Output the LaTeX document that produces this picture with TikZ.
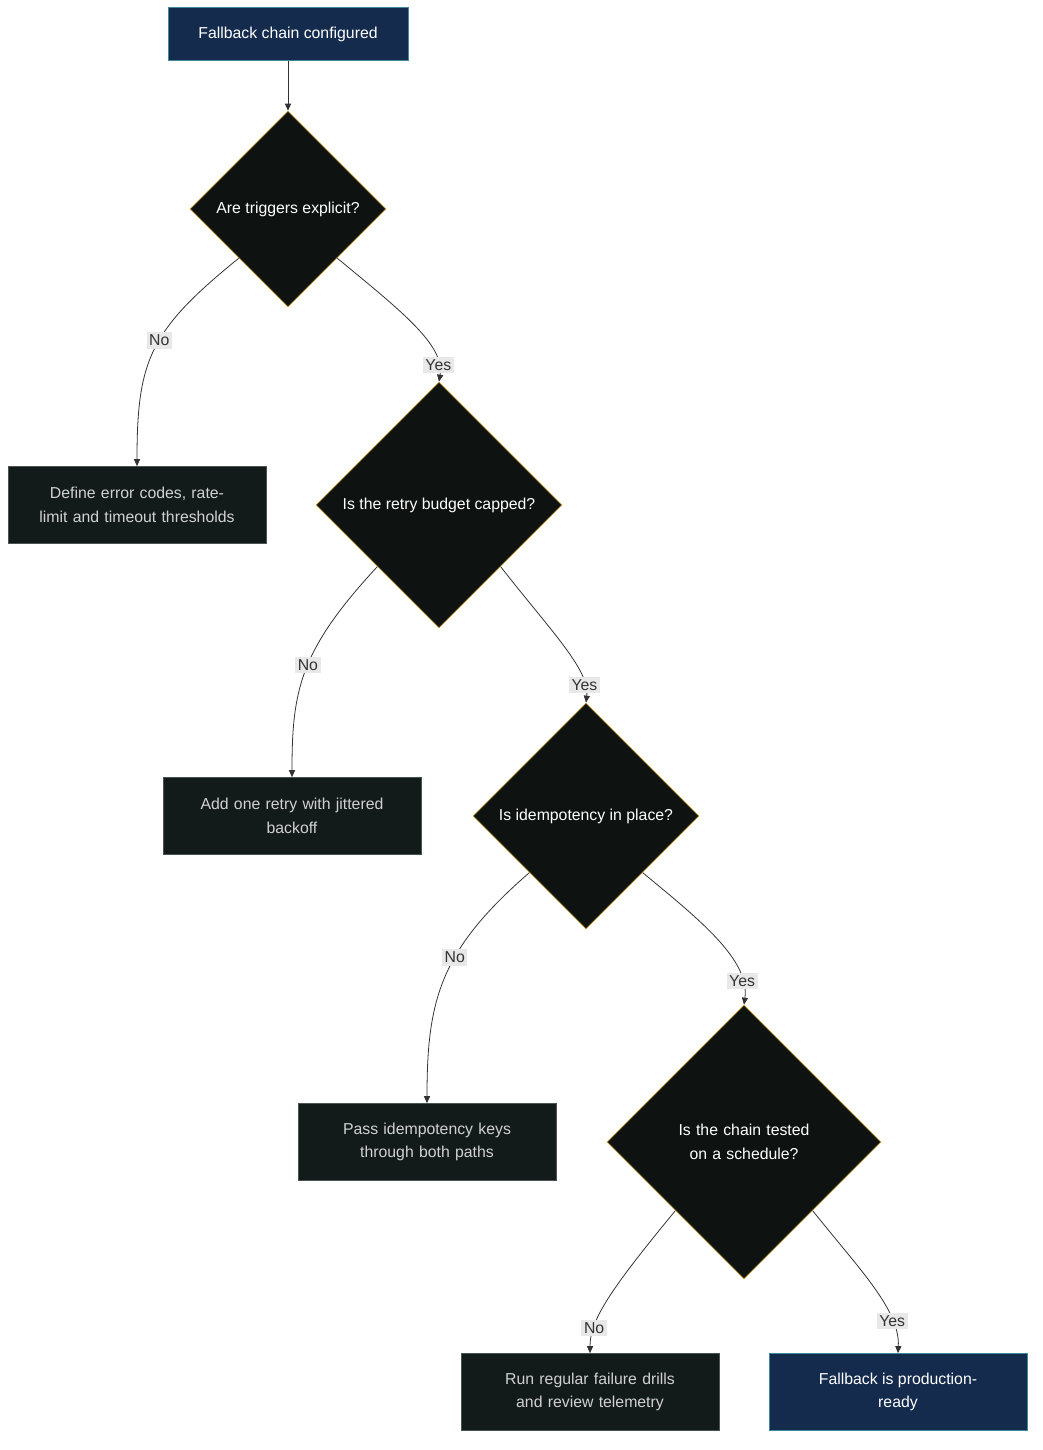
\documentclass[tikz,border=0pt]{standalone}
\usepackage{fontspec}
\setmainfont{Liberation Sans}
\usetikzlibrary{shapes.geometric,arrows.meta}
\definecolor{navy}{HTML}{142B4D}
\definecolor{navyline}{HTML}{3C8A9A}
\definecolor{boxfill}{HTML}{131B1A}
\definecolor{boxline}{HTML}{4A5452}
\definecolor{decfill}{HTML}{0E1312}
\definecolor{decline}{HTML}{C9A13C}
\definecolor{edgecol}{HTML}{333333}
\definecolor{lblfill}{HTML}{E8E8E8}
\tikzset{
  px/.style={x=0.02cm,y=-0.02cm},
  term/.style={rectangle,draw=navyline,fill=navy,text=white,minimum width=4.8cm,minimum height=1.06cm,align=center,font=\fontsize{9}{13.5}\selectfont},
  act/.style={rectangle,draw=boxline,fill=boxfill,text=white!82!black,minimum width=5.16cm,minimum height=1.54cm,text width=4.4cm,align=center,font=\fontsize{9}{13.5}\selectfont},
  dec/.style={diamond,draw=decline,fill=decfill,text=white,inner sep=0pt,align=center,font=\fontsize{9}{13.5}\selectfont},
  flow/.style={draw=edgecol,line width=0.45pt,-{Triangle[length=4pt,width=3.5pt]}},
  lbl/.style={fill=lblfill,text=edgecol,inner sep=1.5pt,font=\fontsize{9}{11}\selectfont}
}
\begin{document}
\begin{tikzpicture}[px]
  \useasboundingbox (0,0) rectangle (1043,1450);
  % nodes
  \node[term] (start) at (288,34) {Fallback chain configured};
  \node[dec,minimum width=3.92cm,minimum height=3.92cm] (trig) at (288,209) {Are triggers explicit?};
  \node[act] (codes) at (137,505) {Define error codes, rate-\\limit and timeout thresholds};
  \node[dec,minimum width=4.92cm,minimum height=4.92cm] (budget) at (439,505) {Is the retry budget capped?};
  \node[act] (retry) at (292,816) {Add one retry with jittered\\backoff};
  \node[dec,minimum width=4.52cm,minimum height=4.52cm] (idem) at (586,816) {Is idempotency in place?};
  \node[act] (keys) at (427,1142) {Pass idempotency keys\\through both paths};
  \node[dec,minimum width=5.48cm,minimum height=5.48cm,text width=3.4cm] (sched) at (744,1142) {Is the chain tested on a schedule?};
  \node[act] (drills) at (590,1392) {Run regular failure drills\\and review telemetry};
  \node[term,minimum width=5.16cm,minimum height=1.54cm] (ready) at (898,1392) {Fallback is production-\\ready};
  % connectors
  \draw[flow] (start) -- (trig);
  \draw[flow] (trig.south west) .. controls (150,330) and (137,360) .. node[lbl,pos=0.45] {No} (codes.north);
  \draw[flow] (trig.south east) .. controls (400,310) and (445,345) .. node[lbl,pos=0.85] {Yes} (budget.north);
  \draw[flow] (budget.south west) .. controls (300,650) and (292,690) .. node[lbl,pos=0.47] {No} (retry.north);
  \draw[flow] (budget.south east) .. controls (550,630) and (590,670) .. node[lbl,pos=0.83] {Yes} (idem.north);
  \draw[flow] (idem.south west) .. controls (440,950) and (427,1000) .. node[lbl,pos=0.4] {No} (keys.north);
  \draw[flow] (idem.south east) .. controls (700,920) and (750,960) .. node[lbl,pos=0.82] {Yes} (sched.north);
  \draw[flow] (sched.south west) .. controls (610,1290) and (590,1320) .. node[lbl,pos=0.75] {No} (drills.north);
  \draw[flow] (sched.south east) .. controls (860,1270) and (900,1310) .. node[lbl,pos=0.75] {Yes} (ready.north);
\end{tikzpicture}
\end{document}
